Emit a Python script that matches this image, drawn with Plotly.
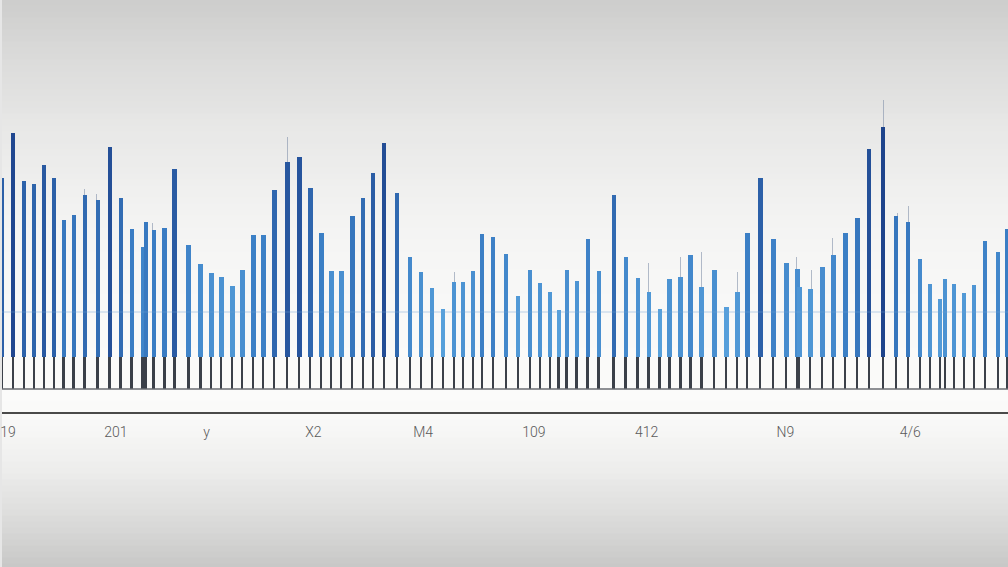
import plotly.graph_objects as go

# bar positions along the time axis and bar values
positions = [0, 11, 22, 32, 42, 52, 62, 72, 83, 96, 108, 119, 130, 141, 144, 152, 163, 173,
             187, 199, 210, 220, 231, 241, 252, 262, 273, 286, 298, 309, 320, 330, 340, 351,
             362, 372, 383, 396, 409, 420, 431, 442, 453, 462, 472, 481, 492, 505, 517, 529,
             539, 549, 558, 566, 576, 587, 598, 613, 625, 637, 648, 659, 669, 680, 690, 701,
             714, 726, 737, 747, 760, 773, 786, 797, 799, 810, 822, 833, 845, 857, 869, 883,
             896, 908, 920, 930, 940, 945, 954, 964, 974, 985, 998, 1007]
values = [105.5, 128, 104, 102.5, 112, 105.5, 84.5, 87, 97, 94.5, 121, 95.5, 80, 71, 83.5, 79.5,
          80.5, 110, 72, 62.5, 58, 56, 51.5, 59.5, 77, 77, 99.5, 113.5, 116, 100.5, 78, 59, 59,
          86.5, 95.5, 108, 123, 98, 66, 58.5, 50.5, 40, 53.5, 53.5, 59, 77.5, 76, 67.5, 46.5,
          59.5, 53, 48.5, 39.5, 59.5, 54, 75, 59, 97, 66, 55.5, 48.5, 40, 55, 56, 67, 51, 59.5,
          41, 48.5, 78, 105.5, 75, 63, 60, 51, 50, 61, 67, 78, 85.5, 120, 131, 86.5, 83.5, 65,
          52.5, 45, 55, 52.5, 48, 52, 74, 68.5, 80]

# thin upper marks above some bars
mark_positions = [83, 95, 151, 286, 453, 648, 680, 701, 737, 796, 811, 832, 883, 897, 908]
mark_values = [100, 97.5, 83, 126, 58.5, 63, 66, 68.5, 58.5, 66, 59.5, 75.5, 144.5, 88, 91.5]

# axis tick labels
tick_positions = [6, 114, 205, 312, 422, 533, 646, 785, 910]
tick_labels = ["19", "201", "y", "X2", "M4", "109", "412", "N9", "4/6"]

STEM = 16  # height of the dark stems below the blue bars

fig = go.Figure()

fig.add_trace(go.Bar(
    x=mark_positions, y=[v - STEM for v in mark_values], base=STEM, width=1.2,
    marker=dict(color="rgba(130,145,170,0.6)", line_width=0),
    hoverinfo="skip", showlegend=False))

fig.add_trace(go.Bar(
    x=positions, y=[STEM] * len(positions), base=0, width=1.8,
    marker=dict(color="#3b4049", line_width=0),
    hoverinfo="skip", showlegend=False))

fig.add_trace(go.Bar(
    x=positions, y=[v - STEM for v in values], base=STEM, width=4.4,
    marker=dict(color=values, cmin=35, cmax=135,
                colorscale=[[0, "#5aa4de"], [0.45, "#3a7dc4"], [1, "#1c3f88"]],
                line_width=0),
    showlegend=False))

# vertical background shading (style only)
PLOT_H = 412
bg_stops = [(0, 205), (60, 219), (130, 232), (200, 241), (260, 246), (330, 249),
            (400, 251), (430, 247), (470, 237), (510, 223), (567, 200)]


def shade(py):
    for (a, ga), (b, gb) in zip(bg_stops, bg_stops[1:]):
        if a <= py <= b:
            g = ga + (gb - ga) * (py - a) / (b - a)
            return int(round(g))
    return bg_stops[-1][1]


shapes = []
step = 6
for top in range(0, 567, step):
    g = shade(top + step / 2)
    col = "rgb(%d,%d,%d)" % (g, g, max(g - 1, 0))
    shapes.append(dict(type="rect", xref="paper", yref="paper", x0=0, x1=1,
                       y0=(PLOT_H - top - step - 0.5) / PLOT_H, y1=(PLOT_H - top + 0.5) / PLOT_H,
                       fillcolor=col, line_width=0, layer="below"))

shapes += [
    dict(type="line", xref="paper", x0=0, x1=1, yref="y", y0=0, y1=0,
         line=dict(color="#6a6d72", width=1.5), layer="above"),
    dict(type="line", xref="paper", x0=0, x1=1, yref="y", y0=38.5, y1=38.5,
         line=dict(color="rgba(110,160,210,0.45)", width=1), layer="above"),
]

fig.update_layout(
    width=1008, height=567,
    margin=dict(l=0, r=0, t=0, b=155),
    paper_bgcolor="#e6e6e6", plot_bgcolor="rgba(0,0,0,0)",
    barmode="overlay", bargap=0,
    xaxis=dict(range=[0, 1008], showgrid=False, zeroline=False,
               showline=True, linecolor="#4a4a4a", linewidth=2,
               tickmode="array", tickvals=tick_positions, ticktext=tick_labels,
               ticks="outside", ticklen=6, tickcolor="rgba(0,0,0,0)",
               ticklabeloverflow="allow",
               tickfont=dict(family="Roboto", size=14, color="#5a5a5a", weight=300)),
    yaxis=dict(range=[-11.5, 194.5], showgrid=False, zeroline=False,
               showticklabels=False, fixedrange=True),
    shapes=shapes,
)

fig.write_html("out.html", config={"displayModeBar": False},
               post_script="document.body.style.margin='0';document.body.style.overflow='hidden';")
